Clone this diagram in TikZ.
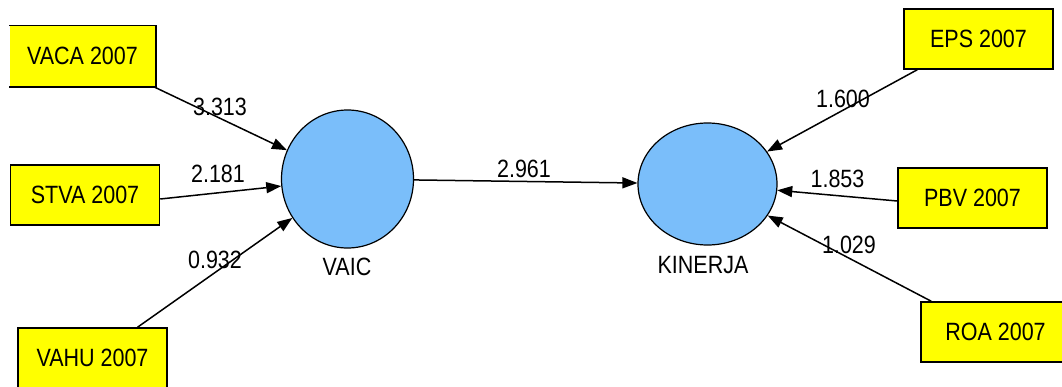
\documentclass[tikz,border=0pt]{standalone}
\usepackage{fontspec}
\setmainfont{Liberation Sans}
\usetikzlibrary{arrows.meta,shapes.geometric}
\definecolor{boxyellow}{RGB}{255,255,0}
\definecolor{latentblue}{RGB}{122,190,250}
\newcommand{\txt}[1]{\scalebox{0.86}[1]{#1}}
\tikzset{
  indicator/.style={rectangle, fill=boxyellow, draw=black, line width=1.5pt,
    minimum width=149pt, minimum height=60pt, inner sep=0pt,
    font=\fontsize{25}{30}\selectfont},
  latent/.style={ellipse, fill=latentblue, draw=black, line width=1.2pt, inner sep=0pt},
  path label/.style={anchor=base, inner sep=0pt, font=\fontsize{25}{30}\selectfont},
  arrowline/.style={draw=black, line width=1.5pt, -{Triangle[length=15pt,width=11pt]}}
}
\begin{document}
\begin{tikzpicture}[x=1pt,y=-1pt]
\useasboundingbox (0,0) rectangle (1062,386);
\clip (0,0) rectangle (1062,386);
% latent variables
\node[latent, minimum width=132pt, minimum height=138pt] (vaic) at (347.5,179) {};
\node[latent, minimum width=139pt, minimum height=122pt] (kinerja) at (707.5,184) {};
% indicators
\node[indicator, draw=none, minimum width=145pt] (vaca) at (82.5,56) {\txt{VACA 2007}};
\draw[line width=1.5pt] (vaca.north west) -- (vaca.north east) -- (vaca.south east) -- (vaca.south west);
\node[indicator] (stva) at (85,195) {\txt{STVA 2007}};
\node[indicator] (vahu) at (92.5,358) {\raisebox{-6pt}{\txt{VAHU 2007}}};
\node[indicator] (eps) at (978.5,39) {\txt{EPS 2007}};
\node[indicator] (pbv) at (972.5,198) {\txt{PBV 2007}};
\node[indicator] (roa) at (995.5,332) {\txt{ROA 2007}};
% connectors
\draw[arrowline] ([xshift=-2pt]vaca.south east) -- (vaic);
\draw[arrowline] ([yshift=-4pt]stva.east) -- (vaic);
\draw[arrowline] ([xshift=45pt]vahu.north) -- (vaic);
\draw[arrowline] (vaic) -- (kinerja);
\draw[arrowline] ([xshift=14pt]eps.south west) -- (kinerja);
\draw[arrowline] ([yshift=-3pt]pbv.west) -- (kinerja);
\draw[arrowline] ([xshift=11pt]roa.north west) -- (kinerja);
% labels
\node[path label] (l1) at (220,115) {\txt{3.313}};
\node[path label] (l2) at (218,182) {\txt{2.181}};
\node[path label] (l3) at (215,268) {\txt{0.932}};
\node[path label] (l4) at (524,177) {\txt{2.961}};
\node[path label] (l5) at (843,107) {\txt{1.600}};
\node[path label] (l6) at (837.5,187) {\txt{1.853}};
\node[path label] (l7) at (849,253) {\txt{1.029}};
\node[path label] (lvaic) at (347,275) {\txt{VAIC}};
\node[path label] (lkin) at (703,273) {\txt{KINERJA}};
\end{tikzpicture}
\end{document}
